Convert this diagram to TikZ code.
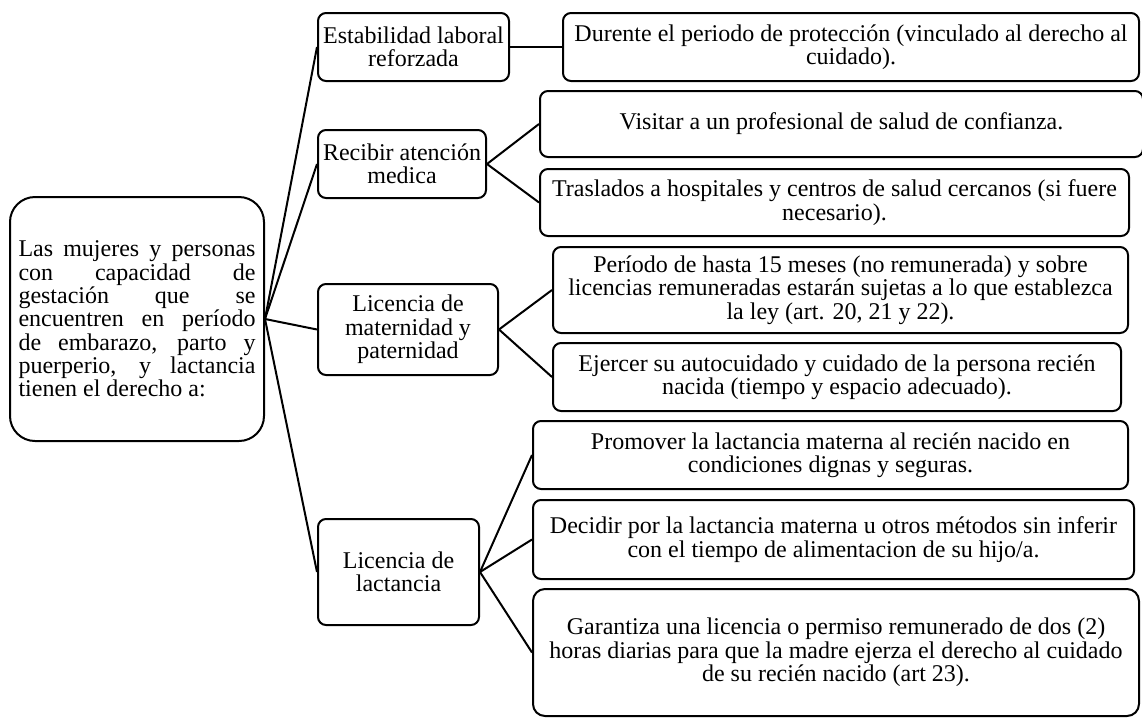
\documentclass[tikz,border=0pt]{standalone}
\usepackage{fontspec}
\setmainfont{Liberation Serif}
\tikzset{
  box/.style={draw, line width=2pt, rounded corners=8pt, align=center,
    inner xsep=3pt, inner ysep=2pt, font=\fontsize{24}{23.3}\selectfont},
  link/.style={line width=2pt},
}
\begin{document}
\begin{tikzpicture}[x=1pt,y=-1pt]
  \fill[white] (0,0) rectangle (1142,718);
  \useasboundingbox (0,0) rectangle (1142,718);
  % root
  \node[box, rounded corners=25pt, minimum height=244pt, text width=237pt,
        align=justify, inner xsep=8.5pt] (root) at (137,319)
    {Las mujeres y personas\linebreak con capacidad de\linebreak
     gestación que se\linebreak encuentren en período\linebreak
     de embarazo, parto y\linebreak puerperio, y lactancia\linebreak
     tienen el derecho a:};
  % middle column
  \node[box, minimum width=191pt, minimum height=68pt] (estab) at (413.5,47)
    {Estabilidad laboral\\reforzada};
  \node[box, minimum width=168pt, minimum height=68pt] (recib) at (402,164)
    {Recibir atención\\medica};
  \node[box, minimum width=180pt, minimum height=91pt] (licmat) at (408,329.5)
    {Licencia de\\maternidad y\\paternidad};
  \node[box, minimum width=161pt, minimum height=106pt] (liclact) at (398.5,572)
    {Licencia de\\lactancia};
  % right column
  \node[box, minimum width=576pt, minimum height=68pt] (durente) at (851,47)
    {Durente el periodo de protección (vinculado al derecho al\\cuidado).};
  \node[box, minimum width=603pt, minimum height=66pt] (visitar) at (841.5,124)
    {Visitar a un profesional de salud de confianza.};
  \node[box, minimum width=589pt, minimum height=67pt] (traslados) at (834.5,202.5)
    {Traslados a hospitales y centros de salud cercanos (si fuere\\necesario).};
  \node[box, minimum width=575pt, minimum height=86pt] (periodo) at (840.5,290)
    {Período de hasta 15 meses (no remunerada) y sobre\\licencias remuneradas estarán sujetas a lo que establezca\\la ley (art. 20, 21 y 22).};
  \node[box, minimum width=568pt, minimum height=68pt] (ejercer) at (837,377)
    {Ejercer su autocuidado y cuidado de la persona recién\\nacida (tiempo y espacio adecuado).};
  \node[box, minimum width=595pt, minimum height=68pt] (promover) at (830.5,455)
    {Promover la lactancia materna al recién nacido en\\condiciones dignas y seguras.};
  \node[box, minimum width=601pt, minimum height=79pt] (decidir) at (833.5,539.5)
    {Decidir por la lactancia materna u otros métodos sin inferir\\con el tiempo de alimentacion de su hijo/a.};
  \node[box, rounded corners=12pt, minimum width=606pt, minimum height=127pt] (garantiza) at (836,652.5)
    {Garantiza una licencia o permiso remunerado de dos (2)\\horas diarias para que la madre ejerza el derecho al cuidado\\de su recién nacido (art 23).};
  % links
  \draw[link] (root.east) -- (estab.west);
  \draw[link] (root.east) -- (recib.west);
  \draw[link] (root.east) -- (licmat.west);
  \draw[link] (root.east) -- (liclact.west);
  \draw[link] (estab.east) -- (durente.west);
  \draw[link] (recib.east) -- (visitar.west);
  \draw[link] (recib.east) -- (traslados.west);
  \draw[link] (licmat.east) -- (periodo.west);
  \draw[link] (licmat.east) -- (ejercer.west);
  \draw[link] (liclact.east) -- (promover.west);
  \draw[link] (liclact.east) -- (decidir.west);
  \draw[link] (liclact.east) -- (garantiza.west);
\end{tikzpicture}
\end{document}
